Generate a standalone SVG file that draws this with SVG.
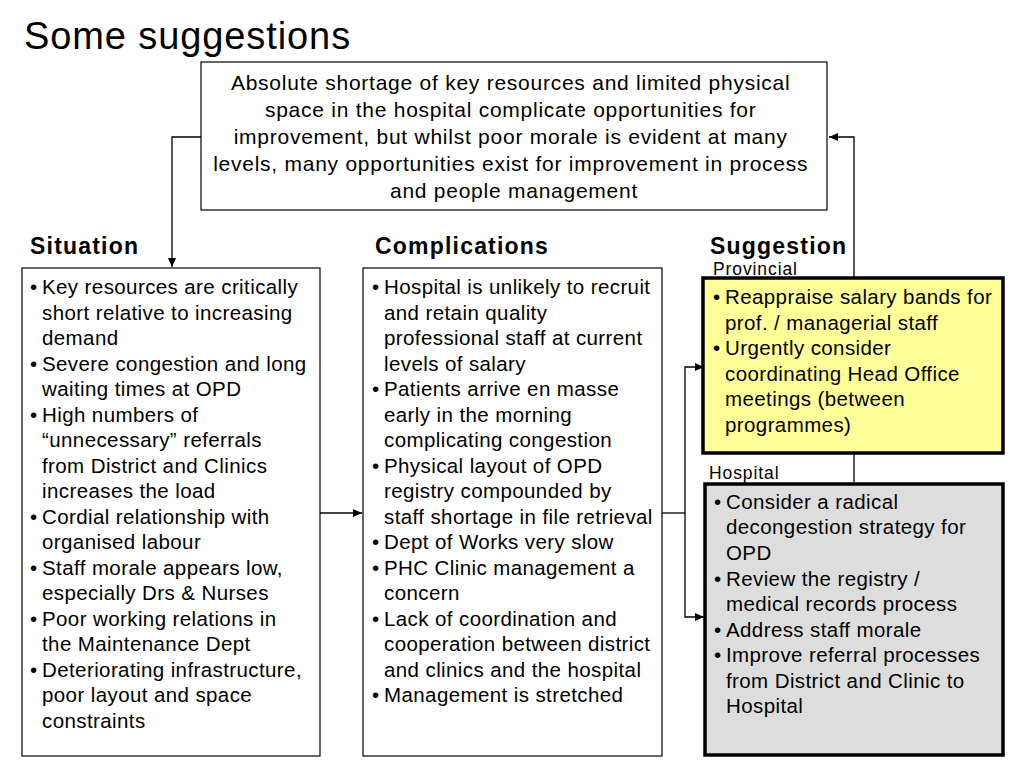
<svg xmlns="http://www.w3.org/2000/svg" width="1024" height="768" viewBox="0 0 1024 768">
<defs>
<style>
text{font-family:"Liberation Sans",Arial,sans-serif;fill:#000}
.t{font-size:20.5px;letter-spacing:0.4px}
.top{font-size:21px;letter-spacing:0.75px}
.h{font-size:23px;font-weight:bold;letter-spacing:1.2px}
.s{font-size:17.5px;letter-spacing:0.9px}
.box{fill:#fff;stroke:#000;stroke-width:1.2}
.thick{stroke:#000;stroke-width:3.5}
.ln{fill:none;stroke:#000;stroke-width:1.3}
</style>
<marker id="ar" markerWidth="10" markerHeight="10" refX="9" refY="5" orient="auto" markerUnits="userSpaceOnUse">
<path d="M0,1 L9,5 L0,9 Z" fill="#000"/>
</marker>
</defs>
<rect width="1024" height="768" fill="#fff"/>
<text x="24" y="49" style="font-size:38px;letter-spacing:0.9px">Some suggestions</text>

<g id="connectors">
<polyline class="ln" points="201,137 172,137 172,267" marker-end="url(#ar)"/>
<polyline class="ln" points="854,482 854,137 829,137" marker-end="url(#ar)"/>
<line class="ln" x1="320" y1="513" x2="362" y2="513" marker-end="url(#ar)"/>
<polyline class="ln" points="662,513 685,513"/>
<polyline class="ln" points="685,513 685,367 704,367" marker-end="url(#ar)"/>
<polyline class="ln" points="685,513 685,617 704,617" marker-end="url(#ar)"/>
</g>

<g id="top">
<rect class="box" x="201" y="62" width="626" height="148"/>
<text class="top" text-anchor="middle">
<tspan x="514" y="90">Absolute shortage of key resources and limited physical</tspan>
<tspan x="514" y="117">space in the hospital complicate opportunities for</tspan>
<tspan x="514" y="144">improvement, but whilst poor morale is evident at many</tspan>
<tspan x="514" y="171">levels, many opportunities exist for improvement in process</tspan>
<tspan x="514" y="198">and people management</tspan>
</text>
</g>

<g id="situation">
<text class="h" x="30" y="254">Situation</text>
<rect class="box" x="22" y="268" width="298" height="488"/>
<text class="t">
<tspan x="30" y="294">•</tspan><tspan x="42" y="294">Key resources are critically</tspan>
<tspan x="42" y="320">short relative to increasing</tspan>
<tspan x="42" y="345">demand</tspan>
<tspan x="30" y="371">•</tspan><tspan x="42" y="371">Severe congestion and long</tspan>
<tspan x="42" y="396">waiting times at OPD</tspan>
<tspan x="30" y="422">•</tspan><tspan x="42" y="422">High numbers of</tspan>
<tspan x="42" y="447">“unnecessary” referrals</tspan>
<tspan x="42" y="473">from District and Clinics</tspan>
<tspan x="42" y="498">increases the load</tspan>
<tspan x="30" y="524">•</tspan><tspan x="42" y="524">Cordial relationship with</tspan>
<tspan x="42" y="549">organised labour</tspan>
<tspan x="30" y="575">•</tspan><tspan x="42" y="575">Staff morale appears low,</tspan>
<tspan x="42" y="600">especially Drs &amp; Nurses</tspan>
<tspan x="30" y="626">•</tspan><tspan x="42" y="626">Poor working relations in</tspan>
<tspan x="42" y="651">the Maintenance Dept</tspan>
<tspan x="30" y="677">•</tspan><tspan x="42" y="677">Deteriorating infrastructure,</tspan>
<tspan x="42" y="702">poor layout and space</tspan>
<tspan x="42" y="728">constraints</tspan>
</text>
</g>

<g id="complications">
<text class="h" x="375" y="254">Complications</text>
<rect class="box" x="363" y="268" width="299" height="488"/>
<text class="t">
<tspan x="372" y="294">•</tspan><tspan x="384" y="294">Hospital is unlikely to recruit</tspan>
<tspan x="384" y="320">and retain quality</tspan>
<tspan x="384" y="345">professional staff at current</tspan>
<tspan x="384" y="371">levels of salary</tspan>
<tspan x="372" y="396">•</tspan><tspan x="384" y="396">Patients arrive en masse</tspan>
<tspan x="384" y="422">early in the morning</tspan>
<tspan x="384" y="447">complicating congestion</tspan>
<tspan x="372" y="473">•</tspan><tspan x="384" y="473">Physical layout of OPD</tspan>
<tspan x="384" y="498">registry compounded by</tspan>
<tspan x="384" y="524">staff shortage in file retrieval</tspan>
<tspan x="372" y="549">•</tspan><tspan x="384" y="549">Dept of Works very slow</tspan>
<tspan x="372" y="575">•</tspan><tspan x="384" y="575">PHC Clinic management a</tspan>
<tspan x="384" y="600">concern</tspan>
<tspan x="372" y="626">•</tspan><tspan x="384" y="626">Lack of coordination and</tspan>
<tspan x="384" y="651">cooperation between district</tspan>
<tspan x="384" y="677">and clinics and the hospital</tspan>
<tspan x="372" y="702">•</tspan><tspan x="384" y="702">Management is stretched</tspan>
</text>
</g>

<g id="suggestion">
<text class="h" x="710" y="254">Suggestion</text>
</g>

<g id="provincial">
<text class="s" x="713" y="275">Provincial</text>
<rect class="thick" x="703" y="278" width="300" height="175" fill="#ffff99"/>
<text class="t">
<tspan x="713" y="304">•</tspan><tspan x="725" y="304">Reappraise salary bands for</tspan>
<tspan x="725" y="330">prof. / managerial staff</tspan>
<tspan x="713" y="355">•</tspan><tspan x="725" y="355">Urgently consider</tspan>
<tspan x="725" y="381">coordinating Head Office</tspan>
<tspan x="725" y="406">meetings (between</tspan>
<tspan x="725" y="432">programmes)</tspan>
</text>
</g>

<g id="hospital">
<text class="s" x="709" y="479">Hospital</text>
<rect class="thick" x="705" y="484" width="298" height="271" fill="#dddddd"/>
<text class="t">
<tspan x="714" y="509">•</tspan><tspan x="726" y="509">Consider a radical</tspan>
<tspan x="726" y="534">decongestion strategy for</tspan>
<tspan x="726" y="560">OPD</tspan>
<tspan x="714" y="586">•</tspan><tspan x="726" y="586">Review the registry /</tspan>
<tspan x="726" y="611">medical records process</tspan>
<tspan x="714" y="637">•</tspan><tspan x="726" y="637">Address staff morale</tspan>
<tspan x="714" y="662">•</tspan><tspan x="726" y="662">Improve referral processes</tspan>
<tspan x="726" y="688">from District and Clinic to</tspan>
<tspan x="726" y="713">Hospital</tspan>
</text>
</g>
</svg>
